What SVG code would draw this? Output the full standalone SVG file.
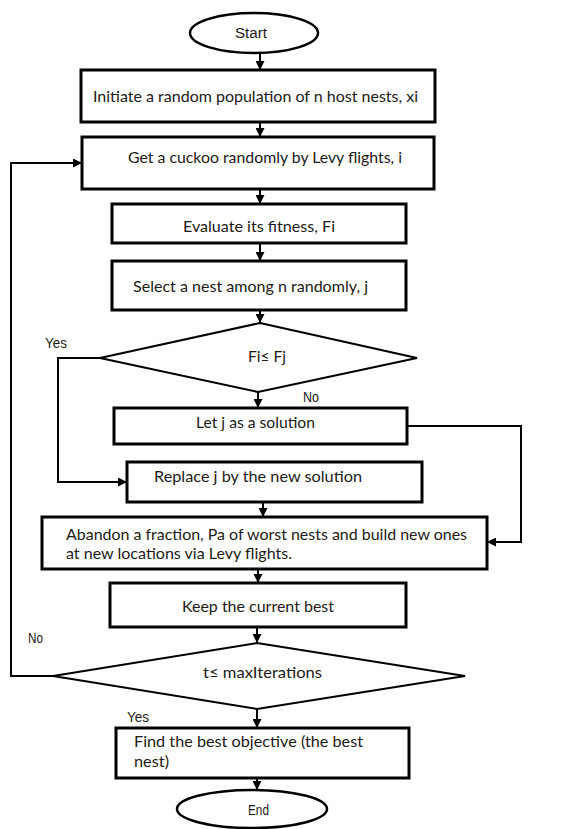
<svg xmlns="http://www.w3.org/2000/svg" width="571" height="829" viewBox="0 0 571 829">
<style>
.box{fill:#fff;stroke:#000;stroke-width:3}
.dec{fill:#fff;stroke:#000;stroke-width:2}
.term{fill:#fff;stroke:#000;stroke-width:2.5}
.t{font-family:Lato,"Open Sans","Liberation Sans",sans-serif;font-size:15px;fill:#1d1a16}
.n{font-family:"Liberation Sans",Arial,sans-serif;font-size:14px;fill:#1d1a16}
.c{fill:none;stroke:#000;stroke-width:2}
</style>
<defs>
<marker id="ah" viewBox="0 0 10 10" refX="10" refY="5" markerWidth="9" markerHeight="9" markerUnits="userSpaceOnUse" orient="auto">
<path d="M0,0 L10,5 L0,10 z" fill="#000"/>
</marker>
</defs>
<rect width="571" height="829" fill="#fff"/>
<g id="connectors">
<path class="c" d="M260 53 V70" marker-end="url(#ah)"/>
<path class="c" d="M260 122 V137" marker-end="url(#ah)"/>
<path class="c" d="M260 189 V204" marker-end="url(#ah)"/>
<path class="c" d="M260 243 V261" marker-end="url(#ah)"/>
<path class="c" d="M260 310 V323" marker-end="url(#ah)"/>
<path class="c" d="M258 392 V408" marker-end="url(#ah)"/>
<path class="c" d="M100 358 H58 V482 H127" marker-end="url(#ah)"/>
<path class="c" d="M407 426 H521 V542 H487" marker-end="url(#ah)"/>
<path class="c" d="M263 502 V517" marker-end="url(#ah)"/>
<path class="c" d="M258 569 V583" marker-end="url(#ah)"/>
<path class="c" d="M257 627 V643" marker-end="url(#ah)"/>
<path class="c" d="M53 676 H11 V163 H82" marker-end="url(#ah)"/>
<path class="c" d="M257 709 V728" marker-end="url(#ah)"/>
<path class="c" d="M257 778 V790" marker-end="url(#ah)"/>
<text class="n" x="45" y="348" textLength="22" lengthAdjust="spacingAndGlyphs">Yes</text>
<text class="n" x="303" y="402" textLength="16" lengthAdjust="spacingAndGlyphs">No</text>
<text class="n" x="28" y="643" textLength="15" lengthAdjust="spacingAndGlyphs">No</text>
<text class="n" x="127" y="722" textLength="22" lengthAdjust="spacingAndGlyphs">Yes</text>
</g>
<g id="start">
<ellipse class="term" cx="254" cy="33" rx="64" ry="20"/>
<text class="n" x="235" y="38" font-size="16" textLength="32" lengthAdjust="spacingAndGlyphs">Start</text>
</g>
<g id="init">
<rect class="box" x="81" y="70" width="354" height="52"/>
<text class="t" x="93" y="102" textLength="325" lengthAdjust="spacingAndGlyphs">Initiate a random population of n host nests, xi</text>
</g>
<g id="cuckoo">
<rect class="box" x="82" y="137" width="352" height="52"/>
<text class="t" x="128" y="163" textLength="274" lengthAdjust="spacingAndGlyphs">Get a cuckoo randomly by Levy flights, i</text>
</g>
<g id="evaluate">
<rect class="box" x="112" y="204" width="294" height="39"/>
<text class="t" x="183" y="232" textLength="152" lengthAdjust="spacingAndGlyphs">Evaluate its fitness, Fi</text>
</g>
<g id="select">
<rect class="box" x="112" y="261" width="294" height="49"/>
<text class="t" x="133" y="292" textLength="235" lengthAdjust="spacingAndGlyphs">Select a nest among n randomly, j</text>
</g>
<g id="cmp1">
<polygon class="dec" points="260,323 417,358 258,392 100,358"/>
<text class="t" x="248" y="362" textLength="38" lengthAdjust="spacingAndGlyphs">Fi≤ Fj</text>
</g>
<g id="letj">
<rect class="box" x="114" y="408" width="293" height="36"/>
<text class="t" x="196" y="428" textLength="119" lengthAdjust="spacingAndGlyphs">Let j as a solution</text>
</g>
<g id="replace">
<rect class="box" x="127" y="462" width="295" height="40"/>
<text class="t" x="154" y="482" textLength="208" lengthAdjust="spacingAndGlyphs">Replace j by the new solution</text>
</g>
<g id="abandon">
<rect class="box" x="42" y="517" width="445" height="52"/>
<text class="t" x="66" y="540" textLength="401" lengthAdjust="spacingAndGlyphs">Abandon a fraction, Pa of worst nests and build new ones</text>
<text class="t" x="66" y="559" textLength="226" lengthAdjust="spacingAndGlyphs">at new locations via Levy flights.</text>
</g>
<g id="keep">
<rect class="box" x="110" y="583" width="296" height="44"/>
<text class="t" x="182" y="612" textLength="152" lengthAdjust="spacingAndGlyphs">Keep the current best</text>
</g>
<g id="cmp2">
<polygon class="dec" points="257,643 465,676 257,709 53,676"/>
<text class="t" x="203" y="678" textLength="119" lengthAdjust="spacingAndGlyphs">t≤ maxIterations</text>
</g>
<g id="find">
<rect class="box" x="116" y="728" width="293" height="50"/>
<text class="t" x="134" y="747" textLength="229" lengthAdjust="spacingAndGlyphs">Find the best objective (the best</text>
<text class="t" x="134" y="767" textLength="35" lengthAdjust="spacingAndGlyphs">nest)</text>
</g>
<g id="end">
<ellipse class="term" cx="252" cy="809" rx="75" ry="19"/>
<text class="n" x="248" y="815" font-size="15" textLength="21" lengthAdjust="spacingAndGlyphs">End</text>
</g>
</svg>
